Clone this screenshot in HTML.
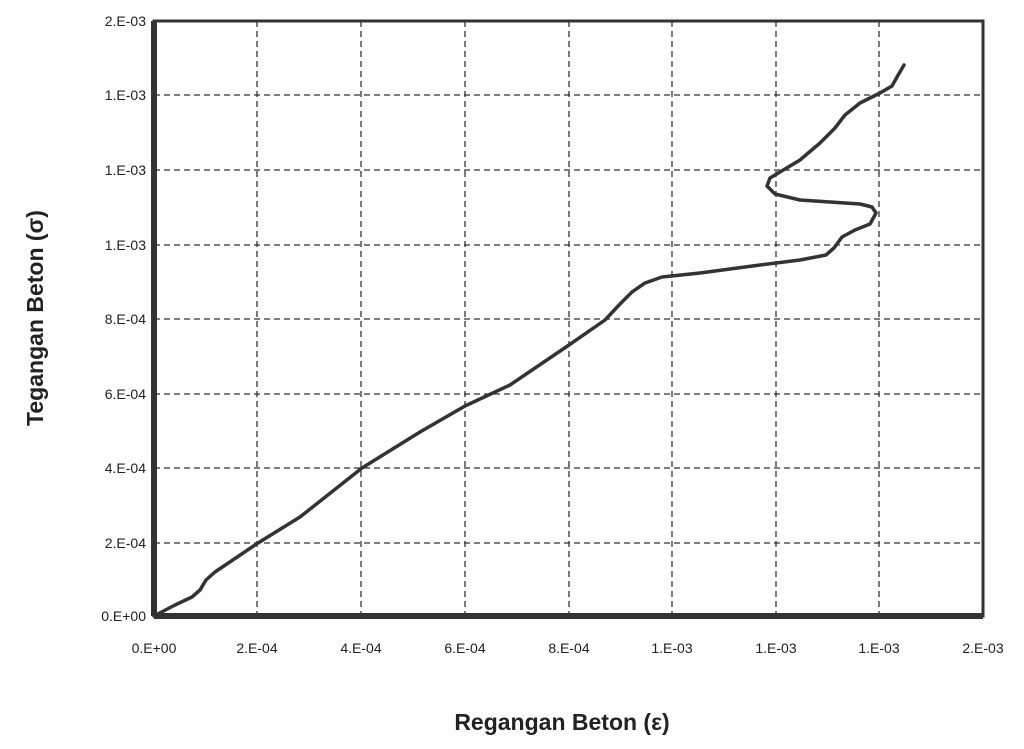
<!DOCTYPE html>
<html><head><style>
body{margin:0;background:#fff;}
svg{display:block;font-family:"Liberation Sans",sans-serif;}
</style></head><body>
<svg width="1024" height="749" viewBox="0 0 1024 749" xmlns="http://www.w3.org/2000/svg">
<rect width="1024" height="749" fill="#fdfdfd"/>
<g stroke="#333" stroke-width="1.3" stroke-dasharray="6,4" fill="none">
<line x1="257" y1="21" x2="257" y2="616"/>
<line x1="361" y1="21" x2="361" y2="616"/>
<line x1="465" y1="21" x2="465" y2="616"/>
<line x1="569" y1="21" x2="569" y2="616"/>
<line x1="672" y1="21" x2="672" y2="616"/>
<line x1="776" y1="21" x2="776" y2="616"/>
<line x1="879" y1="21" x2="879" y2="616"/>
<line x1="154" y1="95" x2="983" y2="95"/>
<line x1="154" y1="170" x2="983" y2="170"/>
<line x1="154" y1="245" x2="983" y2="245"/>
<line x1="154" y1="319" x2="983" y2="319"/>
<line x1="154" y1="394" x2="983" y2="394"/>
<line x1="154" y1="468" x2="983" y2="468"/>
<line x1="154" y1="543" x2="983" y2="543"/>
</g>
<rect x="154" y="21" width="829" height="595" fill="none" stroke="#333" stroke-width="3"/>
<line x1="154" y1="21" x2="154" y2="616" stroke="#333" stroke-width="6"/>
<line x1="154" y1="616" x2="983" y2="616" stroke="#333" stroke-width="6"/>
<polyline fill="none" stroke="#333" stroke-width="3.5" stroke-linejoin="round" stroke-linecap="round" points="154,616 175,605 192,597 200,590 206,580 215,572 258,543 300,517 362,468 420,432 465,406 510,385 569,345 605,320 620,304 632,292 645,283 662,277 700,273 760,265 800,260 826,255 834,248 842,237 855,230 870,224 876,213 872,207 860,204 800,200 775,194 767,186 770,178 780,172 800,160 820,143 835,128 845,115 860,103 880,93 892,86 897,77 904,65"/>
<g font-size="14" fill="#222" text-anchor="end">
<text x="146" y="26">2.E-03</text>
<text x="146" y="100">1.E-03</text>
<text x="146" y="175">1.E-03</text>
<text x="146" y="250">1.E-03</text>
<text x="146" y="324">8.E-04</text>
<text x="146" y="399">6.E-04</text>
<text x="146" y="473">4.E-04</text>
<text x="146" y="548">2.E-04</text>
<text x="146" y="621">0.E+00</text>
</g>
<g font-size="14" fill="#222" text-anchor="middle">
<text x="154" y="653">0.E+00</text>
<text x="257" y="653">2.E-04</text>
<text x="361" y="653">4.E-04</text>
<text x="465" y="653">6.E-04</text>
<text x="569" y="653">8.E-04</text>
<text x="672" y="653">1.E-03</text>
<text x="776" y="653">1.E-03</text>
<text x="879" y="653">1.E-03</text>
<text x="983" y="653">2.E-03</text>
</g>
<text x="562" y="730" font-size="23" font-weight="bold" fill="#222" text-anchor="middle">Regangan Beton (ε)</text>
<text transform="translate(43,318) rotate(-90)" font-size="23" font-weight="bold" fill="#222" text-anchor="middle">Tegangan Beton (σ)</text>
</svg>
</body></html>
